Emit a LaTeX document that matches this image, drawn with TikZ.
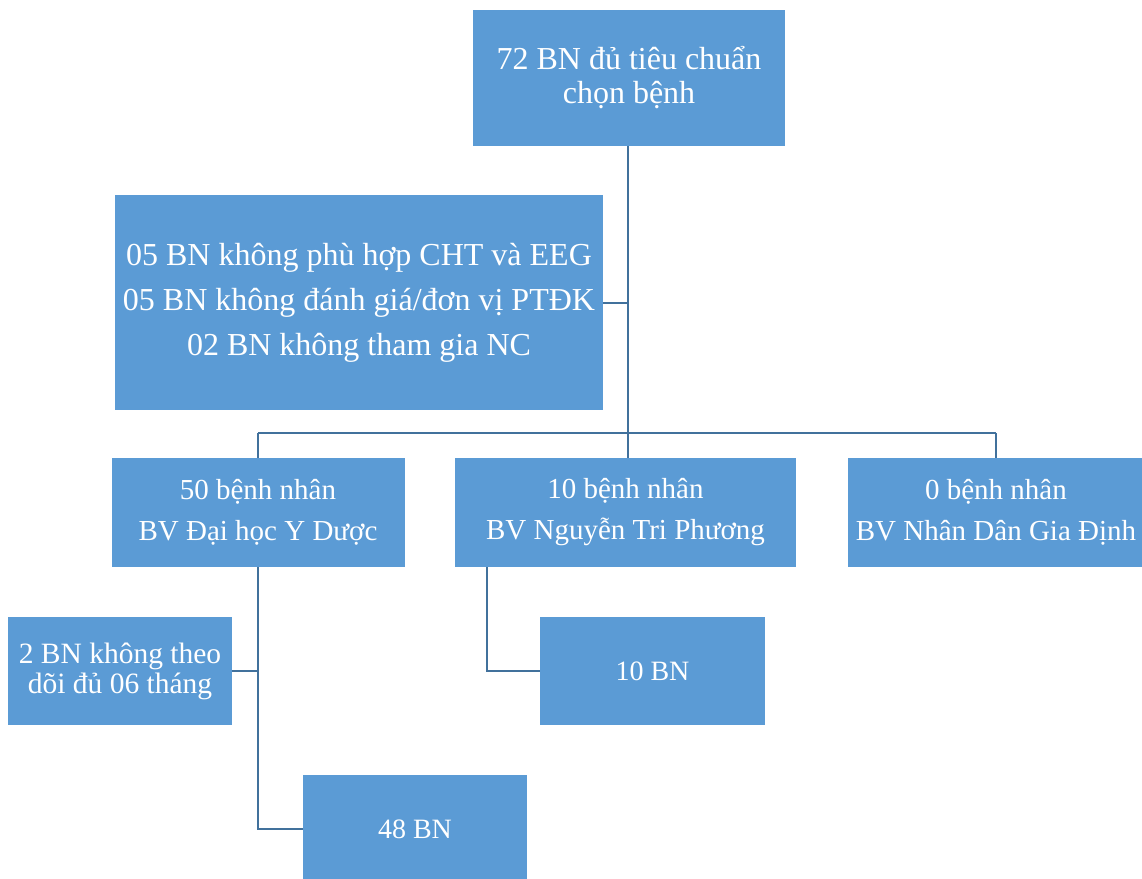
\documentclass[tikz,border=0pt]{standalone}
\usepackage{fontspec}
\setmainfont{Liberation Serif}
\definecolor{boxfill}{RGB}{91,155,213}
\definecolor{linec}{RGB}{65,113,156}
\tikzset{
  box/.style={rectangle, fill=boxfill, text=white, inner sep=0pt, align=center},
  bigtext/.style={font=\fontsize{32}{34}\selectfont},
  conn/.style={draw=linec, line width=2pt}
}
\begin{document}
\begin{tikzpicture}[x=1pt,y=-1pt]
\useasboundingbox (0,0) rectangle (1142,878);
\clip (0,0) rectangle (1142,878);
\node[box, bigtext, minimum width=312pt, minimum height=136pt] (top) at (629,78) {72 BN đủ tiêu chuẩn\\chọn bệnh};
\node[box, font=\fontsize{32}{45}\selectfont, minimum width=488pt, minimum height=215pt] (excl) at (359,302.5) {05 BN không phù hợp CHT và EEG\\05 BN không đánh giá/đơn vị PTĐK\\02 BN không tham gia NC};
\coordinate (j) at (628,433);
\node[box, font=\fontsize{29}{41}\selectfont, minimum width=293pt, minimum height=109pt] (b1) at (258,512.5) {50 bệnh nhân\\BV Đại học Y Dược};
\node[box, font=\fontsize{29}{41}\selectfont, minimum width=341pt, minimum height=109pt] (b2) at (625.5,512.5) {10 bệnh nhân\\BV Nguyễn Tri Phương};
\node[box, font=\fontsize{29}{41}\selectfont, minimum width=296pt, minimum height=109pt] (b3) at (996,512.5) {0 bệnh nhân\\BV Nhân Dân Gia Định};
\node[box, font=\fontsize{29.5}{30}\selectfont, minimum width=224pt, minimum height=108pt] (c2) at (120,671) {2 BN không theo\\dõi đủ 06 tháng};
\node[box, font=\fontsize{28}{30}\selectfont, minimum width=225pt, minimum height=108pt] (n10) at (652.5,671) {10 BN};
\node[box, font=\fontsize{28}{30}\selectfont, minimum width=224pt, minimum height=108pt] (n48) at (415,829) {48 BN};
\draw[conn] (top.south -| j) -- (j);
\draw[conn] (excl.east) -- (excl.east -| j);
\draw[conn] (b1.north |- j) -- (b3.north |- j);
\draw[conn] (b1.north |- j) -- (b1.north);
\draw[conn] (j) -- (j |- b2.north);
\draw[conn] (b3.north |- j) -- (b3.north);
\draw[conn] (b1.south) |- (n48.west);
\draw[conn] (c2.east) -- (c2.east -| b1.south);
\draw[conn] ([xshift=32pt]b2.south west) |- (n10.west);
\end{tikzpicture}
\end{document}
